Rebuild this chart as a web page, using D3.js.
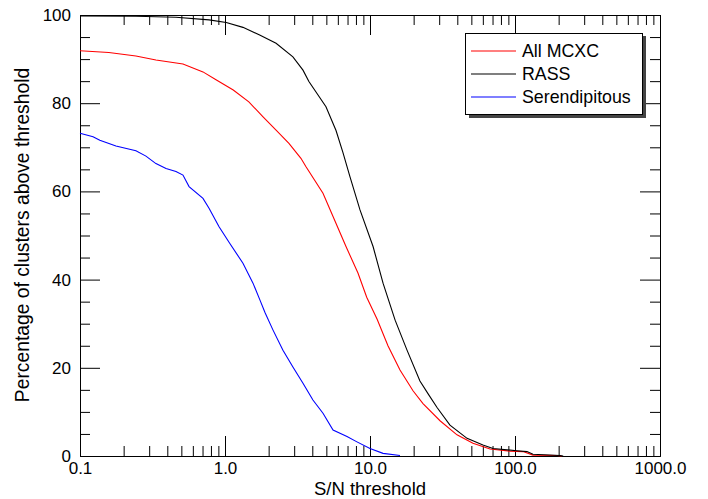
<!DOCTYPE html>
<html>
<head>
<meta charset="utf-8">
<script src="https://cdn.jsdelivr.net/npm/d3@7"></script>
<style>
  body { margin: 0; background: #fff; }
  svg { font-family: "Liberation Sans", Arial, Helvetica, sans-serif; }
</style>
</head>
<body>
<svg id="chart" width="708" height="499"></svg>
<script>
// S/N threshold vs percentage of clusters above it
const snAll = [0.1, 0.158, 0.243, 0.334, 0.513, 0.705, 0.867, 1.14, 1.46, 1.83, 2.25, 2.76, 3.34, 3.62, 4.74, 5.56, 6.83, 8.26, 9.49, 11.2, 13.3, 16.1, 19.8, 23.2, 30.4, 39.8, 51.3, 67.3, 92.4, 113.5, 133, 195, 210];
const pctAll = [91.9, 91.5, 90.7, 89.8, 88.9, 87.1, 85.3, 83.0, 80.3, 76.9, 73.9, 70.9, 67.5, 65.6, 59.6, 54.3, 47.5, 41.5, 36.0, 31.0, 25.0, 19.5, 14.8, 11.9, 8.0, 4.8, 2.9, 1.6, 1.1, 1.0, 0.2, 0.1, 0];

const snRass = [0.1, 0.243, 0.459, 0.776, 1.02, 1.33, 1.72, 2.25, 2.94, 3.45, 3.79, 4.97, 5.83, 6.51, 7.28, 8.53, 10.5, 12.3, 14.9, 18.0, 22.1, 25.5, 29.0, 35.6, 46.7, 60.1, 70.5, 103, 121, 133, 204, 215];
const pctRass = [99.8, 99.7, 99.5, 98.9, 98.3, 97.2, 95.5, 93.6, 90.5, 87.5, 84.9, 79.2, 73.8, 68.8, 63.3, 55.8, 47.5, 39.2, 30.8, 24.0, 17.0, 13.8, 11.0, 7.0, 4.0, 2.5, 1.7, 1.2, 1.0, 0.4, 0.1, 0];

const snSer = [0.1, 0.123, 0.137, 0.177, 0.243, 0.285, 0.334, 0.392, 0.459, 0.513, 0.565, 0.705, 0.776, 0.91, 1.08, 1.33, 1.56, 1.74, 1.89, 2.14, 2.51, 2.94, 3.45, 4.04, 4.74, 5.56, 6.94, 8.13, 10.0, 12.3, 16.1];
const pctSer = [73.2, 72.4, 71.6, 70.3, 69.2, 68.0, 66.3, 65.2, 64.5, 63.7, 61.1, 58.4, 56.2, 52.0, 48.2, 43.7, 39.2, 35.4, 32.5, 28.6, 24.0, 20.2, 16.5, 12.7, 9.7, 5.9, 4.4, 3.2, 1.7, 0.6, 0.1];

const seriesNames = ["All MCXC", "RASS", "Serendipitous"];
const seriesColors = ["#ff0000", "#000000", "#0000ff"];

const xMajor = [0.1, 1, 10, 100, 1000];
const xMajorLabels = ["0.1", "1.0", "10.0", "100.0", "1000.0"];
const yMajor = [0, 20, 40, 60, 80, 100];

const svg = d3.select("#chart");
const mar = { top: 15, right: 48, bottom: 43, left: 80 };
const W = 708, H = 499;

const x = d3.scaleLog().domain([0.1, 1000]).range([mar.left, W - mar.right]);
const y = d3.scaleLinear().domain([0, 100]).range([H - mar.bottom, mar.top]);

const xMinor = [];
for (let d = 0.1; d < 1000; d *= 10) {
    for (let k = 2; k <= 9; k++) xMinor.push(+(d * k).toPrecision(3));
}
const yMinor = d3.range(0, 101, 5).filter(v => v % 20 !== 0);

// axes: major ticks 20px, minor 10px, all pointing inward on all four sides
function styleAxis(g) {
    g.select(".domain").attr("stroke", "#000");
    g.selectAll(".tick line").attr("stroke", "#000");
    g.selectAll("text").attr("fill", "#000").attr("font-size", "17px");
}
const yb = y(0), yt = y(100), xl = x(0.1), xr = x(1000);

svg.append("g").attr("transform", `translate(0,${yb})`)
    .call(d3.axisBottom(x).tickValues(xMajor).tickFormat((d, i) => xMajorLabels[i]).tickSize(-20).tickSizeOuter(0).tickPadding(6))
    .call(styleAxis);
svg.append("g").attr("transform", `translate(0,${yb})`)
    .call(d3.axisBottom(x).tickValues(xMinor).tickFormat("").tickSize(-10).tickSizeOuter(0))
    .call(styleAxis);
svg.append("g").attr("transform", `translate(0,${yt})`)
    .call(d3.axisTop(x).tickValues(xMajor).tickFormat("").tickSize(-20).tickSizeOuter(0))
    .call(styleAxis);
svg.append("g").attr("transform", `translate(0,${yt})`)
    .call(d3.axisTop(x).tickValues(xMinor).tickFormat("").tickSize(-10).tickSizeOuter(0))
    .call(styleAxis);

svg.append("g").attr("transform", `translate(${xl},0)`)
    .call(d3.axisLeft(y).tickValues(yMajor).tickFormat(d3.format("d")).tickSize(-20).tickSizeOuter(0).tickPadding(9))
    .call(styleAxis);
svg.append("g").attr("transform", `translate(${xl},0)`)
    .call(d3.axisLeft(y).tickValues(yMinor).tickFormat("").tickSize(-10).tickSizeOuter(0))
    .call(styleAxis);
svg.append("g").attr("transform", `translate(${xr},0)`)
    .call(d3.axisRight(y).tickValues(yMajor).tickFormat("").tickSize(-20).tickSizeOuter(0))
    .call(styleAxis);
svg.append("g").attr("transform", `translate(${xr},0)`)
    .call(d3.axisRight(y).tickValues(yMinor).tickFormat("").tickSize(-10).tickSizeOuter(0))
    .call(styleAxis);

// curves
const line = d3.line().x(d => x(d[0])).y(d => y(d[1]));
const series = [
    d3.zip(snAll, pctAll),
    d3.zip(snRass, pctRass),
    d3.zip(snSer, pctSer)
];
svg.append("g").selectAll("path")
    .data(series)
    .enter()
    .append("path")
    .attr("d", line)
    .attr("fill", "none")
    .attr("stroke", (d, i) => seriesColors[i])
    .attr("stroke-width", 1.1);

// axis titles
svg.append("text")
    .attr("x", (xl + xr) / 2)
    .attr("y", 495)
    .attr("text-anchor", "middle")
    .attr("font-size", "18.5px")
    .text("S/N threshold");
svg.append("text")
    .attr("transform", "translate(29,235) rotate(-90)")
    .attr("text-anchor", "middle")
    .attr("font-size", "19.3px")
    .text("Percentage of clusters above threshold");

// legend with drop shadow
const lg = svg.append("g");
lg.append("rect").attr("x", 469).attr("y", 36).attr("width", 177).attr("height", 82).attr("fill", "#444");
lg.append("rect").attr("x", 465.5).attr("y", 33.5).attr("width", 177).attr("height", 81)
    .attr("fill", "#fff").attr("stroke", "#000").attr("stroke-width", 1);
const rows = lg.selectAll("g.row")
    .data(seriesNames)
    .enter()
    .append("g")
    .attr("transform", (d, i) => `translate(0,${51 + i * 23})`);
rows.append("line")
    .attr("x1", 471).attr("x2", 516).attr("y1", 0).attr("y2", 0)
    .attr("stroke", (d, i) => seriesColors[i]).attr("stroke-width", 1.1);
rows.append("text")
    .attr("x", 522).attr("y", 6)
    .attr("font-size", "17.8px")
    .text(d => d);
</script>
</body>
</html>
